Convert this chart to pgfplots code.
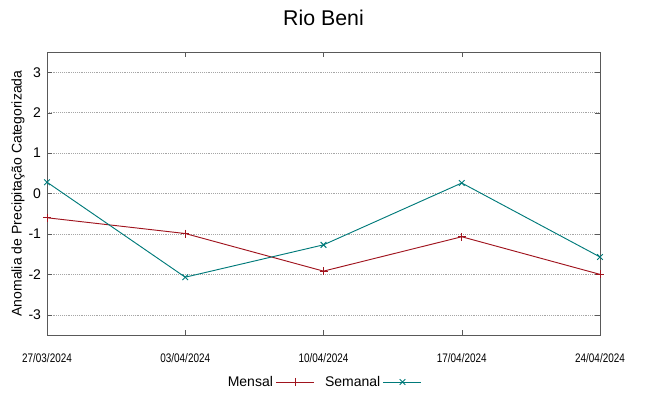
\documentclass[border=0pt]{standalone}
\usepackage{pgfplots}
\pgfplotsset{compat=1.18}
\usepackage{fontspec}
\setmainfont{Liberation Sans}
\definecolor{mensal}{RGB}{160,20,30}
\definecolor{semanal}{RGB}{0,122,122}
\begin{document}
\begin{tikzpicture}[x=1pt,y=1pt]
\useasboundingbox (-35.25,-45.75) rectangle (450.75,251.25);
\begin{axis}[
  at={(0,0)}, anchor=south west,
  scale only axis, width=414.75pt, height=212.25pt,
  xmin=0, xmax=4, ymin=-3.5, ymax=3.5,
  xtick={0,1,2,3,4},
  xticklabels={\scalebox{0.8}[1]{27/03/2024},\scalebox{0.8}[1]{03/04/2024},\scalebox{0.8}[1]{10/04/2024},\scalebox{0.8}[1]{17/04/2024},\scalebox{0.8}[1]{24/04/2024}},
  ytick={-3,-2,-1,0,1,2,3},
  /pgf/number format/assume math mode=true,
  tick label style={font=\fontsize{10.5}{12}\selectfont},
  xticklabel style={font=\fontsize{9.3}{11}\selectfont, yshift=-10pt},
  yticklabel style={xshift=-1pt},
  tick align=inside, tick pos=both,
  major tick length=4pt,
  axis line style={gray!70!black},
  tick style={gray!70!black},
  ymajorgrids, grid style={densely dotted, gray!70},
  title={Rio Beni},
  title style={font=\fontsize{16}{18}\selectfont, yshift=10pt},
  ylabel={Anomalia de Precipitação Categorizada},
  ylabel style={font=\fontsize{10.5}{12}\selectfont, yshift=-4pt},
  legend columns=2,
  legend plot pos=right,
  legend style={draw=none, fill=none, at={(0.5,-0.166)}, anchor=center,
    font=\fontsize{10.5}{12}\selectfont, /tikz/every even column/.append style={column sep=6pt}},
  legend image code/.code={\draw[mark repeat=2,mark phase=2] plot coordinates {(0cm,0cm) (0.5cm,0cm) (1cm,0cm)};},
]
\addplot[color=mensal, mark=+, mark size=3pt, line width=0.7pt] coordinates {
 (0,-0.60) (1,-0.99) (2,-1.92) (3,-1.07) (4,-2.00)};
\addlegendentry{Mensal}
\addplot[color=semanal, mark=x, mark size=3pt, line width=0.7pt] coordinates {
 (0,0.28) (1,-2.07) (2,-1.27) (3,0.26) (4,-1.57)};
\addlegendentry{Semanal}
\end{axis}
\end{tikzpicture}
\end{document}
